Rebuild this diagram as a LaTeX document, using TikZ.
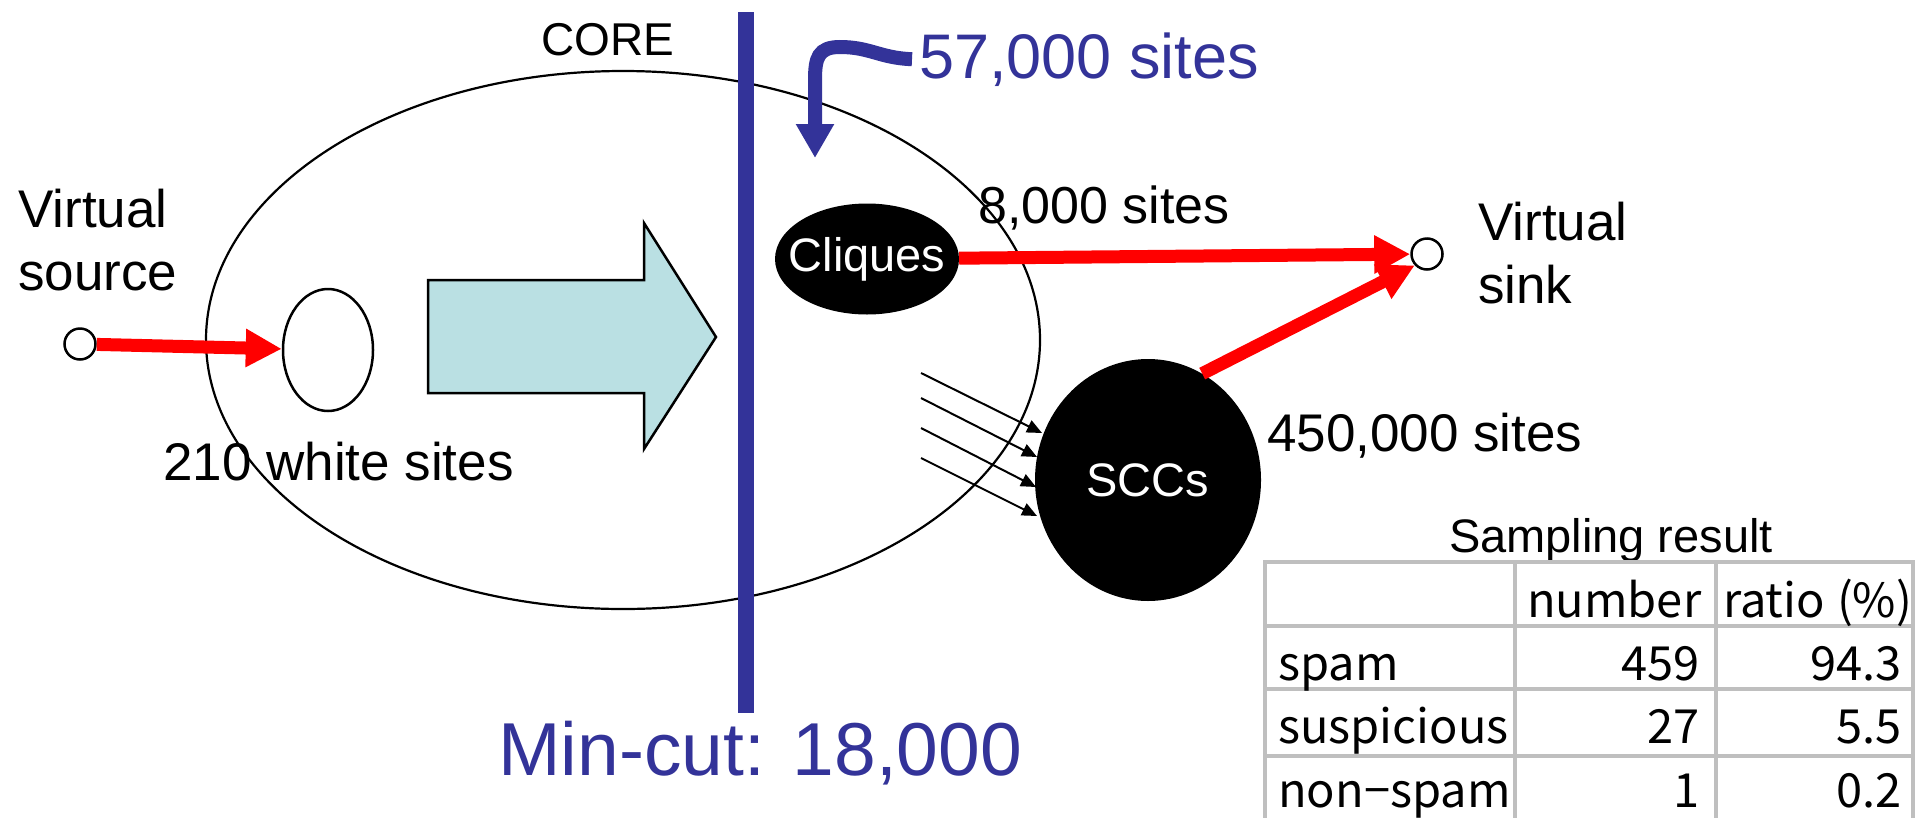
\documentclass[tikz,border=0pt]{standalone}
\usepackage{fontspec}
\setmainfont{Liberation Sans}
\newfontfamily\jpfont{Noto Sans CJK JP}
\usetikzlibrary{arrows.meta,shapes.geometric}
\definecolor{cutblue}{HTML}{333399}
\definecolor{arrowcyan}{HTML}{BAE0E3}
\definecolor{gridgray}{HTML}{BFBFBF}
\begin{document}
\begin{tikzpicture}[x=1pt,y=-1pt,
  txt/.style={inner sep=0pt, anchor=base west},
  f53/.style={font=\fontsize{53}{63}\selectfont},
  redarrow/.style={draw=red, line width=13pt, -{Triangle[length=36pt,width=36pt]}},
  thinarrow/.style={draw=black, line width=2pt, -{Triangle[length=15pt,width=13pt]}},
  dot/.style={circle, draw, line width=2.5pt, fill=white, minimum size=31pt, inner sep=0pt},
  blob/.style={ellipse, fill=black, inner sep=0pt, text=white, font=\fontsize{47}{56}\selectfont},
  cell/.style={inner sep=0pt, font=\jpfont\fontsize{47}{56}\selectfont},
  grid line/.style={draw=gridgray, line width=3.5pt},
]
\useasboundingbox (0,0) rectangle (1921,817);
\fill[white] (0,0) rectangle (1921,817);

% core ellipse
\node[ellipse, draw, line width=2.2pt, minimum width=834pt, minimum height=538pt, inner sep=0pt] (core) at (623,340) {};
\node[inner sep=0pt, anchor=base, font=\fontsize{46}{55}\selectfont] (coretxt) at (608,55) {CORE};

% big cyan arrow
\draw[line width=2.5pt, fill=arrowcyan, line join=miter] (428,280) -- (644,280) -- (644,223) -- (716,337) -- (644,449) -- (644,393) -- (428,393) -- cycle;

% min-cut bar
\fill[cutblue] (738,12) rectangle (754,713);

% nodes
\node[ellipse, draw, line width=2.5pt, minimum width=90pt, minimum height=122pt, inner sep=0pt] (white) at (328,350) {};
\node[dot] (src) at (80,344) {};
\node[dot] (sink) at (1427,254) {};
\node[blob, minimum width=184pt, minimum height=111pt] (cliq) at (867,259) {\makebox[0pt]{Cliques}};
\node[blob, minimum width=226pt, minimum height=242pt] (scc) at (1148,480) {\makebox[0pt]{SCCs}};

% red arrows
\draw[redarrow] (src) -- (white);
\draw[redarrow] (cliq) -- (sink);
\draw[redarrow] (scc.63.7) -- (sink.223);

% thin arrows into SCCs
\coordinate (a1) at (921,373); \coordinate (b1) at (1042,433);
\coordinate (a2) at (921,398); \coordinate (b2) at (1037,457);
\coordinate (a3) at (921,428); \coordinate (b3) at (1036,487);
\coordinate (a4) at (921,458); \coordinate (b4) at (1037,516);
\foreach \i in {1,2,3,4} \draw[thinarrow] (a\i) -- (b\i);

% 57,000 sites
\node[txt, font=\fontsize{63}{75}\selectfont, text=cutblue] (t57) at (919,78) {57,000 sites};
\draw[cutblue, line width=14pt, -{Triangle[length=34pt,width=36pt]}] ([xshift=-7pt]t57.west) .. controls (880,58) and (870,47) .. (840,47) .. controls (818,47) and (815,58) .. (815,80) -- (815,158);

% labels
\node[txt, f53, align=left] (vsrc) at (18,290) {Virtual\\source};
\node[txt, f53, align=left] (vsink) at (1478,303) {Virtual\\sink};
\node[txt, font=\fontsize{52}{62}\selectfont] (t8k) at (978,223) {8,000 sites};
\node[txt, f53] (t450) at (1267,451) {450,000 sites};
\node[txt, f53] (t210) at (163,480) {210 white sites};
\node[txt, font=\fontsize{75}{90}\selectfont, text=cutblue] (tmin) at (498,775) {Min-cut: 18,000};

% table
\node[inner sep=0pt, anchor=base, font=\fontsize{47}{56}\selectfont] (ttitle) at (1611,552) {Sampling result};
\draw[grid line] (1265,562) rectangle (1913,822);
\foreach \x in {1515,1716} \draw[grid line] (\x,562) -- (\x,822);
\foreach \y in {626,689,756} \draw[grid line] (1265,\y) -- (1913,\y);
\node[cell, anchor=base west] (hnum) at (1527,617) {number};
\node[cell, anchor=base west] (hratio) at (1723,617) {ratio\hspace{12pt}(\%)};
\node[cell, anchor=base west] (rspam) at (1278,680) {spam};
\node[cell, anchor=base west] (rsusp) at (1278,743) {suspicious};
\node[cell, anchor=base west] (rnon) at (1278,807) {non−spam};
\node[cell, anchor=base east] (n1) at (1700,680) {459};
\node[cell, anchor=base east] (n2) at (1700,743) {27};
\node[cell, anchor=base east] (n3) at (1700,807) {1};
\node[cell, anchor=base east] (p1) at (1902,680) {94.3};
\node[cell, anchor=base east] (p2) at (1902,743) {5.5};
\node[cell, anchor=base east] (p3) at (1902,807) {0.2};
\end{tikzpicture}
\end{document}
